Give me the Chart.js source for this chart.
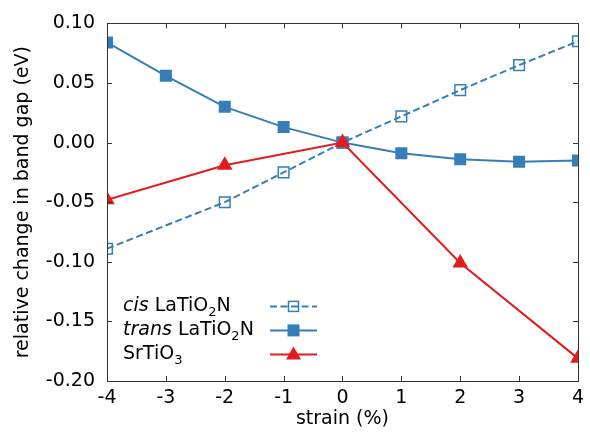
<!DOCTYPE html>
<html>
<head>
<meta charset="utf-8">
<script src="https://cdn.jsdelivr.net/npm/chart.js@4.4.1/dist/chart.umd.min.js"></script>
<style>
  html, body { margin: 0; padding: 0; background: #fff; }
  #wrap { width: 590px; height: 432px; }
</style>
</head>
<body>
<div id="wrap"><canvas id="bandChart" width="590" height="432"></canvas></div>
<script>
// strain values (%)
const strain = [-4, -3, -2, -1, 0, 1, 2, 3, 4];
const cisGap = [-0.089, null, -0.050, -0.025, 0.000, 0.022, 0.044, 0.065, 0.085];
const transGap = [0.084, 0.056, 0.030, 0.013, 0.000, -0.009, -0.014, -0.016, -0.015];
const srStrain = [-4, -2, 0, 2, 4];
const srGap = [-0.048, -0.019, 0.000, -0.101, -0.181];

const xTicks = [-4, -3, -2, -1, 0, 1, 2, 3, 4];
const xTickLabels = ["-4", "-3", "-2", "-1", "0", "1", "2", "3", "4"];
const yTicks = [-0.20, -0.15, -0.10, -0.05, 0.00, 0.05, 0.10];
const yTickLabels = ["-0.20", "-0.15", "-0.10", "-0.05", "0.00", "0.05", "0.10"];

const BLUE = "#377eb8";
const RED = "#e41a1c";
const FONT = "DejaVu Sans";
const CIS_DASH = [7, 3.5];

const toPoints = (xs, ys) => xs.map((x, i) => ({ x, y: ys[i] })).filter(p => p.y !== null);

// frame + inward ticks on all four sides
const framePlugin = {
    id: "frame",
    afterDatasetsDraw(chart) {
        const { ctx, chartArea: a, scales } = chart;
        ctx.save();
        ctx.strokeStyle = "#333";
        ctx.lineWidth = 1;
        ctx.beginPath();
        xTicks.forEach(v => {
            const px = Math.round(scales.x.getPixelForValue(v)) + 0.5;
            ctx.moveTo(px, a.bottom); ctx.lineTo(px, a.bottom - 5);
            ctx.moveTo(px, a.top); ctx.lineTo(px, a.top + 5);
        });
        yTicks.forEach(v => {
            const py = Math.round(scales.y.getPixelForValue(v)) + 0.5;
            ctx.moveTo(a.left, py); ctx.lineTo(a.left + 5, py);
            ctx.moveTo(a.right, py); ctx.lineTo(a.right - 5, py);
        });
        ctx.stroke();
        ctx.strokeRect(Math.round(a.left) + 0.5, Math.round(a.top) + 0.5,
            Math.round(a.right - a.left), Math.round(a.bottom - a.top));
        ctx.restore();
    }
};

// legend: label text on the left, line sample on the right
const legendPlugin = {
    id: "customLegend",
    afterDraw(chart) {
        const { ctx, chartArea: a } = chart;
        const rows = [
            { italic: "cis", main: "LaTiO", sub: "2", tail: "N", color: BLUE, dash: CIS_DASH, marker: "open" },
            { italic: "trans", main: "LaTiO", sub: "2", tail: "N", color: BLUE, dash: [], marker: "square" },
            { italic: "", main: "SrTiO", sub: "3", tail: "", color: RED, dash: [], marker: "tri" }
        ];
        const x0 = a.left + 16;
        const lx0 = a.left + 163, lx1 = a.left + 210;
        ctx.save();
        ctx.textBaseline = "middle";
        ctx.fillStyle = "#000";
        rows.forEach((r, i) => {
            const y = a.top + 283 + i * 24;
            let x = x0;
            if (r.italic) {
                ctx.font = `italic 19px "${FONT}"`;
                ctx.fillText(r.italic + " ", x, y);
                x += ctx.measureText(r.italic + " ").width;
            }
            ctx.font = `19px "${FONT}"`;
            ctx.fillText(r.main, x, y);
            x += ctx.measureText(r.main).width;
            ctx.font = `13px "${FONT}"`;
            ctx.fillText(r.sub, x, y + 6);
            x += ctx.measureText(r.sub).width;
            ctx.font = `19px "${FONT}"`;
            if (r.tail) ctx.fillText(r.tail, x, y);

            ctx.strokeStyle = r.color;
            ctx.fillStyle = r.color;
            ctx.lineWidth = 2;
            ctx.setLineDash(r.dash);
            ctx.beginPath();
            ctx.moveTo(lx0, y); ctx.lineTo(lx1, y);
            ctx.stroke();
            ctx.setLineDash([]);
            const mx = (lx0 + lx1) / 2;
            if (r.marker === "open") {
                ctx.lineWidth = 1.5;
                ctx.strokeRect(mx - 5, y - 5, 10, 10);
            } else if (r.marker === "square") {
                ctx.fillRect(mx - 6, y - 6, 12, 12);
            } else {
                ctx.beginPath();
                ctx.moveTo(mx, y - 8);
                ctx.lineTo(mx - 7.5, y + 5);
                ctx.lineTo(mx + 7.5, y + 5);
                ctx.closePath();
                ctx.fill();
            }
            ctx.fillStyle = "#000";
        });
        ctx.restore();
    }
};

new Chart(document.getElementById("bandChart"), {
    type: "line",
    data: {
        datasets: [
            {
                label: "cis LaTiO2N",
                data: toPoints(strain, cisGap),
                borderColor: BLUE,
                backgroundColor: "rgba(0,0,0,0)",
                borderWidth: 2,
                borderDash: CIS_DASH,
                pointStyle: "rect",
                pointRadius: 7.5,
                pointBorderWidth: 1.5,
                pointBorderColor: BLUE,
                pointBackgroundColor: "rgba(0,0,0,0)",
                spanGaps: true,
                order: 1
            },
            {
                label: "trans LaTiO2N",
                data: toPoints(strain, transGap),
                borderColor: BLUE,
                backgroundColor: BLUE,
                borderWidth: 2,
                pointStyle: "rect",
                pointRadius: 8.5,
                pointBorderWidth: 0,
                pointBackgroundColor: BLUE,
                order: 2
            },
            {
                label: "SrTiO3",
                data: toPoints(srStrain, srGap),
                borderColor: RED,
                backgroundColor: RED,
                borderWidth: 2,
                pointStyle: "triangle",
                pointRadius: 9,
                pointBorderWidth: 0,
                pointBackgroundColor: RED,
                order: 0
            }
        ]
    },
    options: {
        responsive: false,
        animation: false,
        layout: { padding: { left: 0, right: 12, top: 21, bottom: 0 } },
        plugins: {
            legend: { display: false },
            tooltip: { enabled: false }
        },
        scales: {
            x: {
                type: "linear",
                min: -4,
                max: 4,
                afterBuildTicks: s => { s.ticks = xTicks.map(v => ({ value: v })); },
                afterFit: s => { s.height = 51; },
                grid: { display: false, drawTicks: false },
                border: { display: false },
                ticks: {
                    padding: 6,
                    color: "#000",
                    font: { family: FONT, size: 19 },
                    callback: (v, i) => xTickLabels[i]
                },
                title: {
                    display: true,
                    text: "strain (%)",
                    color: "#000",
                    font: { family: FONT, size: 19 },
                    padding: { top: 0, bottom: 2 }
                }
            },
            y: {
                type: "linear",
                min: -0.2,
                max: 0.1,
                afterBuildTicks: s => { s.ticks = yTicks.map(v => ({ value: v })); },
                afterFit: s => { s.width = 107; },
                grid: { display: false, drawTicks: false },
                border: { display: false },
                ticks: {
                    padding: 12,
                    color: "#000",
                    font: { family: FONT, size: 19 },
                    callback: (v, i) => yTickLabels[i]
                },
                title: {
                    display: true,
                    text: "relative change in band gap (eV)",
                    color: "#000",
                    font: { family: FONT, size: 19 },
                    padding: { top: 12, bottom: 0 }
                }
            }
        }
    },
    plugins: [framePlugin, legendPlugin]
});
</script>
</body>
</html>
